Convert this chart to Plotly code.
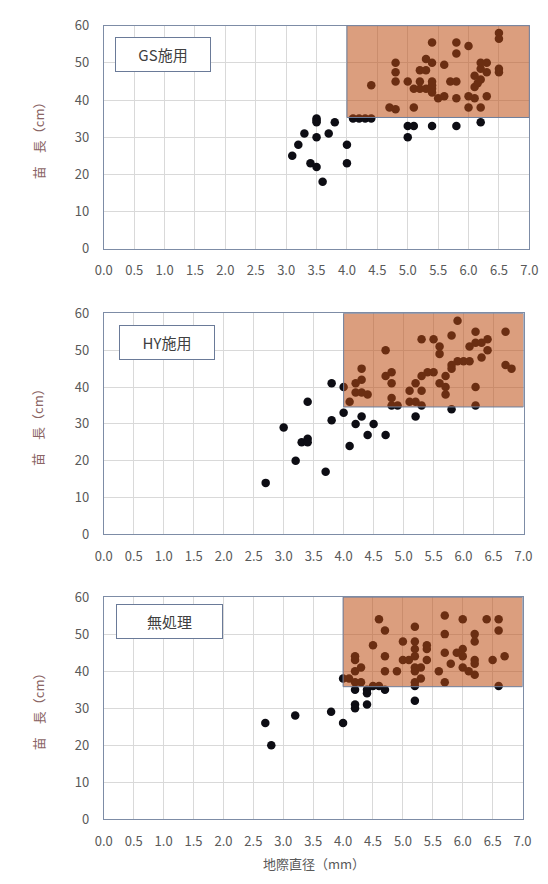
import plotly.graph_objects as go

# Seedling growth by stem diameter for three treatments
gs_diameter = [3.1, 3.2, 3.3, 3.5, 3.5, 3.5, 3.5, 3.4, 3.5, 3.6, 3.7, 3.8, 4.0, 4.0,
               4.1, 4.2, 4.3, 4.4, 5.0, 5.1, 5.0, 5.4, 5.8, 6.2,
               4.4, 4.7, 4.8, 4.8, 4.8, 4.8, 5.0, 5.1, 5.1, 5.2, 5.3, 5.4, 5.2, 5.2,
               5.3, 5.3, 5.4, 5.4, 5.4, 5.4, 5.4, 5.5, 5.6, 5.6, 5.7, 5.8, 5.8, 5.8,
               5.8, 6.0, 6.0, 6.0, 6.1, 6.1, 6.15, 6.2, 6.1, 6.2, 6.2, 6.3, 6.2, 6.3,
               6.3, 6.5, 6.5, 6.5, 6.5]
gs_height = [25, 28, 31, 35, 34.5, 34, 30, 23, 22, 18, 31, 34, 28, 23,
             35, 35, 35, 35, 33, 33, 30, 33, 33, 34,
             44, 38, 37.5, 50, 47.5, 45, 45, 38, 43, 43, 43, 43, 45, 48,
             48, 51, 50, 55.5, 45, 44, 42, 40.5, 49.5, 41, 45, 45, 55.5, 52.5,
             40.5, 54.5, 41, 38, 46.5, 43.5, 44.5, 45.5, 40.5, 38, 50, 50, 48.4, 47.5,
             41, 58, 56.5, 48.4, 47.5]

hy_diameter = [2.7, 3.0, 3.2, 3.3, 3.4, 3.4, 3.4, 3.7, 3.8, 3.8, 4.0, 4.0, 4.1, 4.2,
               4.3, 4.4, 4.5, 4.7, 5.2, 5.8,
               5.9, 6.7, 6.2, 5.8, 5.3, 5.5, 5.6, 5.6, 6.1, 6.2, 6.3, 6.4, 6.4, 6.3,
               5.8, 5.8, 5.9, 6.0, 6.1, 6.7, 6.8, 4.7, 4.3, 4.3, 4.2, 4.2, 4.3, 4.4,
               4.1, 4.7, 4.8, 4.8, 4.8, 4.8, 4.9, 5.1, 5.1, 5.2, 5.2, 5.3, 5.3, 5.3,
               5.4, 5.5, 5.6, 5.7, 5.7, 5.7, 6.2, 6.2]
hy_height = [14, 29, 20, 25, 26, 25, 36, 17, 41, 31, 40, 33, 24, 30,
             32, 27, 30, 27, 32, 34,
             58, 55, 55, 54, 53, 53, 51, 49, 51, 52, 52, 53, 50, 48,
             46, 45, 47, 47, 47, 46, 45, 50, 45, 42, 41, 38.5, 38.5, 38,
             36, 43, 44, 41, 37, 35, 35, 39, 36, 36, 41, 39, 35, 43,
             44, 44, 41, 40, 38, 43, 40, 35]

ctrl_diameter = [2.7, 2.8, 3.2, 3.8, 4.0, 4.0, 4.2, 4.2, 4.2, 4.4, 4.4, 4.4, 4.7, 5.2, 5.2,
                 4.1, 4.2, 4.3, 4.2, 4.3, 4.2, 4.2, 4.5, 4.6, 4.5, 4.6, 4.7, 4.7, 4.7,
                 4.9, 5.0, 5.0, 5.1, 5.2, 5.2, 5.2, 5.2, 5.2, 5.2, 5.2, 5.3, 5.3, 5.4,
                 5.4, 5.4, 5.6, 5.7, 5.7, 5.7, 5.7, 5.8, 5.9, 6.0, 6.0, 6.0, 6.0, 6.1,
                 6.2, 6.2, 6.2, 6.2, 6.2, 6.4, 6.5, 6.6, 6.6, 6.6, 6.7]
ctrl_height = [26, 20, 28, 29, 26, 38, 35, 31, 30, 35, 34, 31, 35, 32, 36,
               38, 37, 37, 40, 41, 44, 43, 36, 36, 47, 54, 51, 44, 40,
               40, 48, 43, 43, 52, 48, 46, 44, 41, 40, 37, 41, 38, 47,
               46, 43, 40, 55, 50, 45, 37, 42, 45, 54, 46, 44, 41, 40,
               50, 48, 43, 42, 39, 54, 43, 54, 51, 36, 44]

panel_labels = ["GS施用", "HY施用", "無処理"]
threshold_diameter = 4.0
threshold_heights = [35.3, 34.6, 35.8]
x_range = [0, 7.0]
y_range = [0, 60]

W, H = 548, 884
FONT = "Noto Sans CJK JP"
FRAME = "#7d8ca6"
GRID = "#d9d9d9"
TICK = "#595959"

# pixel boxes for each panel: (left, right, top, bottom)
boxes = [(98, 538, 16, 244), (98, 532, 310, 536), (98, 531, 600, 827)]
# label box: (left, top, width)
label_boxes = [(110, 28, 92), (114, 322, 92), (111, 607, 103)]

series = [(gs_diameter, gs_height), (hy_diameter, hy_height), (ctrl_diameter, ctrl_height)]

fig = go.Figure()
layout = dict(
    width=W, height=H, margin=dict(l=0, r=0, t=0, b=0),
    paper_bgcolor="white", plot_bgcolor="white", showlegend=False,
    font=dict(family=FONT, size=13, color=TICK),
)
annotations = []
shapes = []

for i, ((xs, ys), (l, r, t, b)) in enumerate(zip(series, boxes)):
    n = "" if i == 0 else str(i + 1)
    fig.add_trace(go.Scatter(
        x=xs, y=ys, mode="markers", xaxis="x" + n, yaxis="y" + n,
        marker=dict(color="#0d0d14", size=8.5, line=dict(width=0)),
        hoverinfo="x+y",
    ))
    layout["xaxis" + n] = dict(
        domain=[l / W, r / W], anchor="y" + n, range=x_range, dtick=0.5,
        tickformat=".1f", showgrid=True, gridcolor=GRID, gridwidth=1,
        showline=True, linecolor=FRAME, linewidth=1, mirror=True,
        zeroline=False, ticks="", ticklabelstandoff=10,
        tickfont=dict(size=13, color=TICK, family=FONT),
    )
    layout["yaxis" + n] = dict(
        domain=[1 - b / H, 1 - t / H], anchor="x" + n, range=y_range, dtick=10,
        showgrid=True, gridcolor=GRID, gridwidth=1,
        showline=True, linecolor=FRAME, linewidth=1, mirror=True,
        zeroline=False, ticks="", ticklabelstandoff=11,
        tickfont=dict(size=13, color=TICK, family=FONT),
    )
    # highlighted region: diameter >= threshold and height above panel threshold
    shapes.append(dict(
        type="rect", xref="x" + n, yref="y" + n,
        x0=threshold_diameter, x1=x_range[1], y0=threshold_heights[i], y1=y_range[1],
        fillcolor="rgba(189,76,16,0.54)", line=dict(color="#6f7f9c", width=1),
        layer="above",
    ))
    # treatment label box
    lx, ly, lw = label_boxes[i]
    annotations.append(dict(
        text=panel_labels[i], xref="paper", yref="paper",
        x=lx / W, y=1 - ly / H, xanchor="left", yanchor="top",
        showarrow=False, width=lw, height=31, align="center", valign="middle",
        bordercolor="#6a7a98", borderwidth=1, borderpad=1, bgcolor="white",
        font=dict(size=15, color="#404040", family=FONT),
    ))
    # vertical axis title
    annotations.append(dict(
        text="苗　長（cm）", xref="paper", yref="paper",
        x=30 / W, y=1 - (t + b) / 2 / H, xanchor="center", yanchor="middle",
        showarrow=False, textangle=-90,
        font=dict(size=13, color="#8a6464", family=FONT),
    ))

annotations.append(dict(
    text="地際直径（mm）", xref="paper", yref="paper",
    x=315 / W, y=1 - 872 / H, xanchor="center", yanchor="middle",
    showarrow=False, font=dict(size=13, color=TICK, family=FONT),
))

layout["annotations"] = annotations
layout["shapes"] = shapes
fig.update_layout(**layout)
fig.write_html("out.html")
